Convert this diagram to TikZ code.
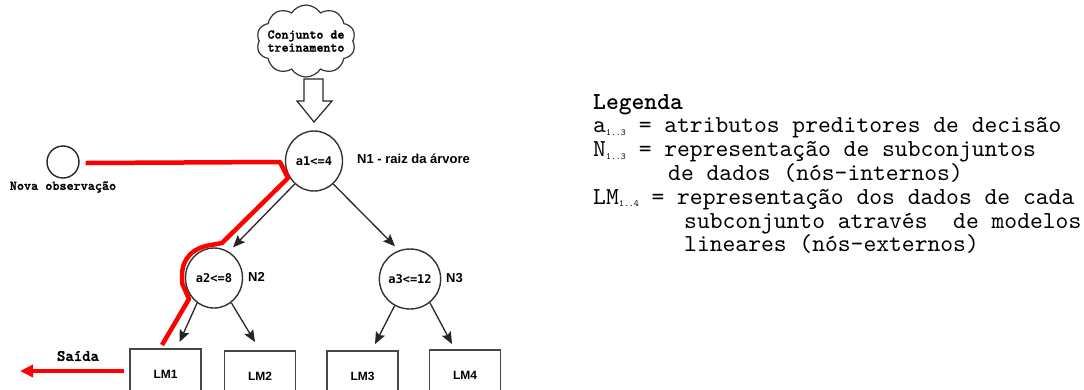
\documentclass[tikz,border=0pt]{standalone}
\usepackage{fontspec}
\setmainfont{Liberation Sans}
\newfontfamily\cmono{lmmono10-regular.otf}
\newfontfamily\cmonob{lmmonolt10-bold.otf}
\newfontfamily\cmonobb{lmmonolt10-bold.otf}[FakeBold=1.5]
\newfontfamily\dvmono{DejaVu Sans Mono}
\usetikzlibrary{shapes.geometric,shapes.symbols,arrows.meta}

\begin{document}
\begin{tikzpicture}[x=1pt,y=-1pt,
  treenode/.style={ellipse,draw=black!80,line width=1.4pt,minimum width=57pt,minimum height=60pt,
    inner sep=0pt,font=\dvmono\bfseries\fontsize{12}{12}\selectfont},
  leaf/.style={rectangle,draw=black!72,line width=1.8pt,minimum width=71pt,minimum height=50pt,
    inner sep=0pt,font=\bfseries\fontsize{12}{12}\selectfont},
  nlabel/.style={font=\bfseries\fontsize{13}{13}\selectfont,inner sep=0pt},
  monolabel/.style={font=\cmonobb\fontsize{13.5}{15}\selectfont,inner sep=0pt},
  link/.style={draw=black!85,line width=1.3pt,-{Stealth[length=12pt,width=10pt,inset=2pt]}},
  route/.style={draw=red,line width=4.5pt,line join=round},
  legline/.style={font=\cmono\fontsize{24.4}{24.4}\selectfont,anchor=base west,inner sep=0pt},
  ]
\useasboundingbox (0,0) rectangle (1084,389);
\newcommand\idx[1]{\raisebox{-2.5pt}{\fontsize{9.5}{9.5}\selectfont #1}}

% training set
\node[cloud,cloud ignores aspect,draw=black!80,line width=1.2pt,cloud puffs=10,cloud puff arc=115,
  minimum width=99pt,minimum height=72pt,inner sep=0pt] (cloud) at (306,41) {};
\node[align=center,inner sep=0pt,font=\cmonobb\fontsize{13.3}{13}\selectfont] (cloudtext)
  at (cloud.center) {Conjunto de\\treinamento};

% hollow block arrow into the root
\draw[black!85,line width=1.2pt,line join=miter]
  (304,79) -- (323,79) -- (323,101) -- (332,101) -- (314,122) -- (297,101) -- (304,101) -- cycle;

% tree
\node[treenode] (N1) at (314,161) {a1<=4};
\node[treenode] (N2) at (214,278) {a2<=8};
\node[treenode] (N3) at (410,279) {a3<=12};

\node[nlabel,anchor=west] (N1t) at (357,159) {N1 - raiz da árvore};
\node[nlabel,anchor=west] (N2t) at (248,277) {N2};
\node[nlabel,anchor=west] (N3t) at (446,278) {N3};

\node[leaf] (LM1) at (165.5,374) {LM1};
\node[leaf] (LM2) at (260,376) {LM2};
\node[leaf] (LM3) at (362.5,376) {LM3};
\node[leaf] (LM4) at (465,375) {LM4};

\draw[link] (N1.230) -- ([xshift=19pt]N2.north);
\draw[link] (N1.310) -- ([xshift=-15pt,yshift=2pt]N3.north);
\draw[link] (N2.236) -- ([xshift=14pt,yshift=6pt]LM1.north);
\draw[link] (N2.305) -- ([xshift=-5pt,yshift=8pt]LM2.north);
\draw[link] (N3.240) -- ([xshift=12.5pt,yshift=6pt]LM3.north);
\draw[link] (N3.310) -- ([xshift=-13pt,yshift=5pt]LM4.north);

% new observation and its route down the tree
\node[circle,draw=black!85,line width=1.4pt,minimum size=32pt,inner sep=0pt] (nova) at (63,162) {};
\node[monolabel] (novat) at (63,187) {Nova observação};

\coordinate (r1) at (280,162);
\coordinate (r2) at (288,178);
\coordinate (r3) at (222,243);
\coordinate (r4) at (214,244.5);
\coordinate (r5) at (182,276);
\coordinate (r6) at (182,283);
\coordinate (r7) at (189,299);
\coordinate (rend) at (162,345);
\draw[route] ([xshift=6pt,yshift=-1pt]nova.east) -- (r1) -- (r2) -- (r3) -- (r4)
  .. controls (193,247) and (182,258) .. (r5) -- (r6) -- (r7) -- (rend);

% output
\coordinate (out) at (20,371);
\draw[red,line width=4pt,-{Triangle[length=13pt,width=12pt]}] ([xshift=-5pt,yshift=3pt]LM1.west) -- (out);
\node[monolabel,font=\cmonobb\fontsize{16}{16}\selectfont] (saida) at (78,356) {Saída};

% legend
\node[legline,font=\cmonob\fontsize{24.4}{24.4}\selectfont] (leg0) at (593,109) {Legenda};
\node[legline] (leg1) at (593,132.8) {a\idx{1..3} = atributos preditores de decisão};
\node[legline] (leg2) at (593,156.6) {N\idx{1..3} = representação de subconjuntos};
\node[legline] (leg3) at (668,180.4) {de dados (nós-internos)};
\node[legline] (leg4) at (593,204.2) {LM\idx{1..4} = representação dos dados de cada};
\node[legline] (leg5) at (684,228) {subconjunto através\ \ de modelos};
\node[legline] (leg6) at (684,251.8) {lineares (nós-externos)};
\end{tikzpicture}
\end{document}
